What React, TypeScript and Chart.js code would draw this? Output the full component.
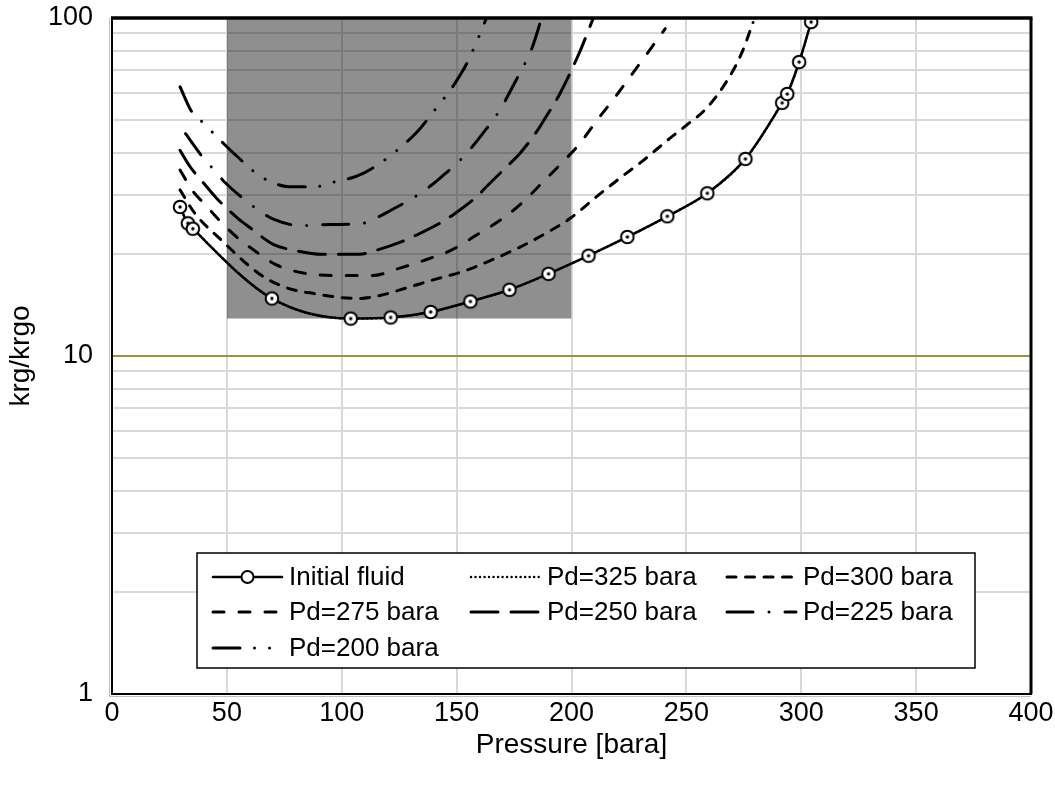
import React, { useEffect, useRef } from 'react';
import { Chart, registerables } from 'chart.js';

Chart.register(...registerables);

// ---------------- data ----------------
const seriesLabels = ['Initial fluid', 'Pd=325 bara', 'Pd=300 bara', 'Pd=275 bara', 'Pd=250 bara', 'Pd=225 bara', 'Pd=200 bara'];

const initialP = [29.6, 33, 35.2, 69.6, 103.9, 121.3, 138.7, 156, 173, 190, 207.4, 224.3, 241.7, 259.1, 275.7, 291.7, 293.9, 299.1, 304.3];
const initialK = [27.6, 24.7, 23.8, 14.8, 12.9, 13.0, 13.5, 14.5, 15.7, 17.5, 19.8, 22.5, 25.9, 30.3, 38.3, 56.1, 59.6, 74.1, 97.3];

const pd325P = [29.6, 33, 35.2, 69.6, 103.9, 121.3, 138.7, 156, 173, 190, 207.4, 224.3, 241.7, 259.1, 275.7, 291.7, 293.9, 299.1, 304.3];
const pd325K = [27.6, 24.7, 23.8, 14.8, 12.9, 13.0, 13.5, 14.5, 15.7, 17.5, 19.8, 22.5, 25.9, 30.3, 38.3, 56.1, 59.6, 74.1, 97.3];

const pd300P = [29.6, 36.1, 47.7, 60, 67.5, 77.5, 88, 99.2, 108, 116.6, 128.2, 139.8, 152.9, 165, 177.6, 189.9, 199.3, 210.9, 221.1, 231, 242.9, 250.1, 258.8, 267.5, 274.1, 279];
const pd300K = [31.0, 26.4, 22.0, 18.4, 16.9, 15.8, 15.3, 14.9, 14.8, 15.1, 15.9, 16.8, 17.8, 19.2, 21.0, 23.3, 25.5, 29.6, 33.6, 37.8, 44.1, 48.2, 54.1, 64.9, 78.8, 97];

const pd275P = [29.6, 35.4, 40, 47, 54.9, 61.2, 71.6, 83.3, 98, 113, 125.3, 136.9, 147.9, 158.7, 168.9, 178.3, 187.7, 195.7, 203.7, 210.9, 219.7, 226.2, 233.4, 240.8];
const pd275K = [35.5, 30.6, 28.3, 25.1, 22.3, 20.7, 18.6, 17.6, 17.3, 17.3, 18.2, 19.3, 20.6, 22.8, 25.2, 28.3, 32.8, 37.2, 42.6, 49.6, 59.2, 68.0, 79.3, 93];

const pd250P = [29.6, 34, 40.5, 45.5, 54.9, 60, 70.2, 80, 91.2, 101, 107.9, 114.5, 126.1, 132.6, 143.5, 149.3, 158.7, 163.8, 172.5, 177.6, 184.8, 188.5, 195, 203.4, 209.5];
const pd250K = [40.6, 36.3, 32.1, 29.3, 25.5, 24.0, 21.4, 20.5, 20.0, 20.0, 20.0, 20.5, 21.8, 22.8, 24.9, 26.4, 29.6, 32.1, 36.7, 39.8, 46.1, 50.5, 59.8, 78.9, 100];

const pd225P = [32, 40.2, 44.5, 49.2, 58.6, 64.4, 70.2, 82.3, 95.6, 107.9, 114.9, 121, 131.9, 137.7, 142.8, 152.2, 156.8, 160.9, 168.8, 175, 180.8, 183.1, 187];
const pd225K = [45.5, 38.2, 35.5, 32.6, 28.7, 26.8, 25.4, 24.3, 24.5, 24.6, 25.6, 26.9, 29.6, 31.5, 33.6, 38.4, 41.6, 45.1, 53.4, 63.8, 76.0, 82.5, 100];

const pd200P = [29.6, 34.7, 39.5, 44.4, 49.2, 58.6, 63.7, 69.9, 76.7, 89.1, 95.6, 102.6, 109.3, 119.6, 125, 130.4, 134.8, 142.8, 146.8, 150.7, 153.6, 159.4, 163];
const pd200K = [62.6, 52.8, 49.1, 45.4, 42.1, 36.7, 34.3, 32.6, 31.7, 31.7, 32.6, 33.4, 34.7, 38.4, 41.1, 44.3, 47.7, 56.0, 60.5, 66.4, 71.6, 87.1, 100];

// shaded band
const shadeP = [50, 200];
const shadeK = [12.9, 12.9];

// axes
const xTickValues = [0, 50, 100, 150, 200, 250, 300, 350, 400];
const yGridValues = [1, 2, 3, 4, 5, 6, 7, 8, 9, 10, 20, 30, 40, 50, 60, 70, 80, 90, 100];
const yTickLabels = [1, 10, 100];

// ---------------- styling ----------------
const FONT = "'Liberation Sans', Arial, sans-serif";
const TEXT = '#000000';
const GRID = '#d9d9d9';
const OLIVE = '#9a9440';

const toPts = (P: number[], K: number[]) => P.map((x, i) => ({ x, y: K[i] }));

function makeMarker(): HTMLCanvasElement {
  const c = document.createElement('canvas');
  c.width = 20;
  c.height = 20;
  const g = c.getContext('2d')!;
  g.beginPath();
  g.arc(10, 10, 6.3, 0, Math.PI * 2);
  g.fillStyle = '#ffffff';
  g.fill();
  g.lineWidth = 2;
  g.strokeStyle = '#000000';
  g.stroke();
  g.beginPath();
  g.arc(10, 10, 1.7, 0, Math.PI * 2);
  g.fillStyle = '#000000';
  g.fill();
  return c;
}

const frame = {
  id: 'frame',
  afterDatasetsDraw(chart: any) {
    const { ctx, chartArea: a } = chart;
    ctx.save();
    ctx.strokeStyle = '#bfbfbf';
    ctx.lineWidth = 1;
    ctx.beginPath();
    ctx.moveTo(a.left - 2.5, a.top);
    ctx.lineTo(a.left - 2.5, a.bottom + 2.5);
    ctx.lineTo(a.right, a.bottom + 2.5);
    ctx.stroke();
    ctx.strokeStyle = '#000000';
    ctx.lineWidth = 2;
    ctx.strokeRect(a.left, a.top, a.right - a.left, a.bottom - a.top);
    ctx.lineWidth = 3.5;
    ctx.beginPath();
    ctx.moveTo(a.left - 1, a.top);
    ctx.lineTo(a.right + 1.5, a.top);
    ctx.stroke();
    ctx.lineWidth = 3;
    ctx.beginPath();
    ctx.moveTo(a.right, a.top);
    ctx.lineTo(a.right, a.bottom);
    ctx.stroke();
    ctx.restore();
  },
};

const boxLegend = {
  id: 'boxLegend',
  afterDraw(chart: any) {
    const { ctx } = chart;
    const bx = 197, by = 553, bw = 778, bh = 115;
    const colX = [213, 471, 727];
    const rowY = [577, 612, 648];
    const sampleLen = 69;
    ctx.save();
    ctx.fillStyle = '#ffffff';
    ctx.fillRect(bx, by, bw, bh);
    ctx.strokeStyle = '#000000';
    ctx.lineWidth = 1.5;
    ctx.strokeRect(bx, by, bw, bh);
    const items = chart.data.datasets.filter((d: any) => !d.isShade);
    items.forEach((d: any, i: number) => {
      const col = i % 3;
      const row = Math.floor(i / 3);
      const x0 = colX[col];
      const y = rowY[row];
      ctx.save();
      ctx.strokeStyle = '#000000';
      ctx.lineWidth = d.borderWidth;
      ctx.lineCap = d.borderCapStyle || 'butt';
      ctx.setLineDash(d.borderDash || []);
      ctx.beginPath();
      ctx.moveTo(x0, y);
      ctx.lineTo(x0 + sampleLen, y);
      ctx.stroke();
      ctx.setLineDash([]);
      if (d.legendMarker) {
        ctx.beginPath();
        ctx.arc(x0 + sampleLen / 2, y, 6, 0, Math.PI * 2);
        ctx.fillStyle = '#ffffff';
        ctx.fill();
        ctx.lineWidth = 2;
        ctx.stroke();
      }
      ctx.fillStyle = TEXT;
      ctx.font = `26px ${FONT}`;
      ctx.textAlign = 'left';
      ctx.textBaseline = 'middle';
      ctx.fillText(d.label, x0 + sampleLen + 7, y + 1);
      ctx.restore();
    });
    ctx.restore();
  },
};

export default function App() {
  const ref = useRef<HTMLCanvasElement | null>(null);

  useEffect(() => {
    if (!ref.current) return;
    const marker = makeMarker();
    const base = {
      borderColor: '#000000',
      backgroundColor: '#000000',
      pointRadius: 0,
      fill: false,
      cubicInterpolationMode: 'monotone' as const,
      borderCapStyle: 'round' as const,
      borderWidth: 3,
    };
    const chart = new Chart(ref.current, {
      type: 'line',
      data: {
        datasets: [
          {
            ...base,
            label: seriesLabels[0],
            data: toPts(initialP, initialK),
            borderWidth: 2.5,
            borderDash: [],
            pointStyle: marker as any,
            pointRadius: 7,
            legendMarker: true,
          } as any,
          { ...base, label: seriesLabels[1], data: toPts(pd325P, pd325K), borderWidth: 2.5, borderDash: [0.01, 4.5] },
          { ...base, label: seriesLabels[2], data: toPts(pd300P, pd300K), borderDash: [9, 9.5] },
          { ...base, label: seriesLabels[3], data: toPts(pd275P, pd275K), borderDash: [11, 15] },
          { ...base, label: seriesLabels[4], data: toPts(pd250P, pd250K), borderDash: [27, 13] },
          { ...base, label: seriesLabels[5], data: toPts(pd225P, pd225K), borderDash: [26, 16, 0.01, 16] },
          { ...base, label: seriesLabels[6], data: toPts(pd200P, pd200K), borderDash: [27, 14.5, 0.01, 15, 0.01, 14.5] },
          {
            label: 'shade',
            isShade: true,
            data: toPts(shadeP, shadeK),
            borderWidth: 0,
            borderColor: 'rgba(0,0,0,0)',
            pointRadius: 0,
            tension: 0,
            fill: 'end',
            backgroundColor: 'rgba(0,0,0,0.44)',
          } as any,
        ],
      },
      options: {
        responsive: false,
        animation: false,
        events: [],
        layout: { padding: { top: 18, right: 24, left: 0, bottom: 0 } },
        plugins: {
          legend: { display: false },
          tooltip: { enabled: false },
        },
        scales: {
          x: {
            type: 'linear',
            min: 0,
            max: 400,
            afterBuildTicks: (s: any) => {
              s.ticks = xTickValues.map((v) => ({ value: v }));
            },
            afterFit: (s: any) => {
              s.height = 91;
              s.paddingLeft = 0;
              s.paddingRight = 0;
            },
            ticks: {
              autoSkip: false,
              maxRotation: 0,
              padding: 3,
              color: TEXT,
              font: { family: FONT, size: 27 },
              callback: (v: any) => String(v),
            },
            grid: { color: GRID, lineWidth: 2, drawTicks: false },
            border: { display: false },
            title: {
              display: true,
              text: 'Pressure [bara]',
              color: TEXT,
              font: { family: FONT, size: 28 },
              padding: { top: 0, bottom: 23 },
            },
          },
          y: {
            type: 'logarithmic',
            min: 1,
            max: 100,
            afterBuildTicks: (s: any) => {
              s.ticks = yGridValues.map((v) => ({ value: v }));
            },
            afterFit: (s: any) => {
              s.width = 112;
              s.paddingTop = 0;
              s.paddingBottom = 0;
            },
            ticks: {
              autoSkip: false,
              padding: 19,
              color: TEXT,
              font: { family: FONT, size: 27 },
              callback: (v: any) => (yTickLabels.includes(Number(v)) ? String(v) : ''),
            },
            grid: {
              color: (c: any) => (c.tick && c.tick.value === 10 ? OLIVE : GRID),
              lineWidth: 2,
              drawTicks: false,
            },
            border: { display: false },
            title: {
              display: true,
              text: 'krg/krgo',
              color: TEXT,
              font: { family: FONT, size: 28 },
              padding: { top: 4, bottom: 0 },
            },
          },
        },
      } as any,
      plugins: [frame, boxLegend],
    });
    return () => chart.destroy();
  }, []);

  return (
    <div style={{ position: 'fixed', left: 0, top: 0, width: 1055, height: 785, background: '#ffffff' }}>
      <canvas ref={ref} width={1055} height={785} style={{ display: 'block' }} />
    </div>
  );
}
